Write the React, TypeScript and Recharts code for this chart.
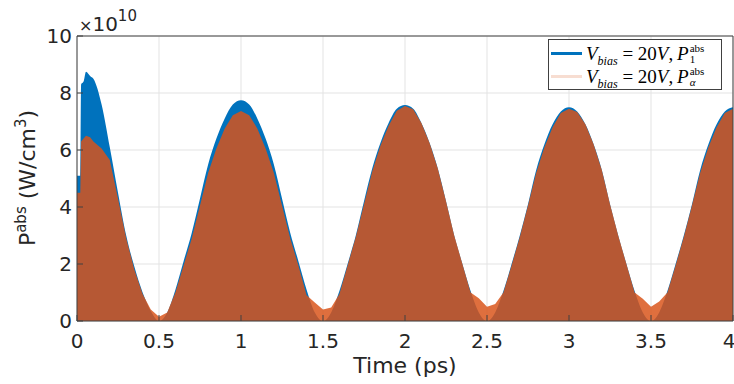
import {
  ComposedChart,
  Area,
  XAxis,
  YAxis,
  CartesianGrid,
  ReferenceLine,
  Label,
} from "recharts";

// time axis (ps)
const times = [
  0, 0.02, 0.025, 0.04, 0.055, 0.08, 0.1,
  0.15, 0.2, 0.25, 0.3, 0.35, 0.4, 0.45, 0.5,
  0.55, 0.6, 0.65, 0.7, 0.75, 0.8, 0.85, 0.9, 0.95, 1.0,
  1.05, 1.1, 1.15, 1.2, 1.25, 1.3, 1.35, 1.4, 1.45, 1.5,
  1.55, 1.6, 1.65, 1.7, 1.75, 1.8, 1.85, 1.9, 1.95, 2.0,
  2.05, 2.1, 2.15, 2.2, 2.25, 2.3, 2.35, 2.4, 2.45, 2.5,
  2.55, 2.6, 2.65, 2.7, 2.75, 2.8, 2.85, 2.9, 2.95, 3.0,
  3.05, 3.1, 3.15, 3.2, 3.25, 3.3, 3.35, 3.4, 3.45, 3.5,
  3.55, 3.6, 3.65, 3.7, 3.75, 3.8, 3.85, 3.9, 3.95, 4.0,
];

// envelope of P1 abs (x1e10 W/cm^3)
const p1Abs = [
  5.1, 5.1, 8.3, 8.4, 8.75, 8.6, 8.5,
  7.6, 6.1, 4.5, 3.0, 1.9, 1.0, 0.35, 0,
  0.3, 1.1, 2.1, 3.1, 4.3, 5.5, 6.4, 7.1, 7.6, 7.75,
  7.6, 7.1, 6.4, 5.5, 4.3, 3.1, 2.1, 1.1, 0.3, 0,
  0.3, 1.05, 2.0, 3.0, 4.2, 5.35, 6.25, 6.95, 7.45, 7.58,
  7.45, 6.95, 6.25, 5.35, 4.2, 3.0, 2.0, 1.05, 0.3, 0,
  0.3, 1.05, 2.0, 3.0, 4.1, 5.3, 6.2, 6.9, 7.35, 7.5,
  7.35, 6.9, 6.2, 5.3, 4.1, 3.0, 2.0, 1.05, 0.3, 0,
  0.3, 1.05, 2.0, 3.0, 4.1, 5.3, 6.2, 6.9, 7.35, 7.5,
];

// envelope of P alpha abs (x1e10 W/cm^3)
const pAlphaAbs = [
  4.5, 4.5, 6.3, 6.4, 6.5, 6.45, 6.3,
  6.05, 5.65, 4.3, 2.9, 1.8, 0.95, 0.4, 0.15,
  0.3, 1.0, 1.95, 2.9, 4.05, 5.2, 6.05, 6.75, 7.22, 7.37,
  7.22, 6.75, 6.05, 5.2, 4.05, 2.9, 1.95, 0.9, 0.65, 0.4,
  0.47, 0.95, 1.95, 2.95, 4.1, 5.25, 6.15, 6.85, 7.38, 7.54,
  7.43, 6.95, 6.25, 5.35, 4.2, 3.0, 2.0, 1.0, 0.8, 0.5,
  0.6, 1.0, 1.95, 2.95, 4.05, 5.2, 6.1, 6.8, 7.3, 7.45,
  7.33, 6.9, 6.2, 5.3, 4.1, 3.0, 2.0, 1.0, 0.78, 0.5,
  0.68, 1.0, 1.95, 2.95, 4.05, 5.2, 6.1, 6.8, 7.3, 7.45,
];

const xTicks = [0, 0.5, 1, 1.5, 2, 2.5, 3, 3.5, 4];
const yTicks = [0, 2, 4, 6, 8, 10];

const data = times.map((t, i) => ({ t, p1: p1Abs[i], pa: pAlphaAbs[i] }));

const sans = "'DejaVu Sans', sans-serif";
const serif = "'Liberation Serif', 'DejaVu Serif', serif";
const axisColor = "#404040";
const textColor = "#262626";

function LegendRow({ color, sub, italicSub }: { color: string; sub: string; italicSub?: boolean }) {
  return (
    <div style={{ display: "flex", alignItems: "center", height: 23 }}>
      <div style={{ width: 31, height: 3, background: color, marginRight: 4, flexShrink: 0 }} />
      <span style={{ fontFamily: serif, fontSize: 19, color: "#000", whiteSpace: "nowrap", lineHeight: "23px" }}>
        <i>V</i>
        <sub style={{ fontSize: 12, lineHeight: 0 }}>
          <i>bias</i>
        </sub>
        {"\u2005=\u200520"}
        <i>V</i>,{"\u2009"}
        <i>P</i>
      </span>
      <span
        style={{
          display: "flex",
          flexDirection: "column",
          fontFamily: serif,
          fontSize: 11,
          lineHeight: "11px",
          marginLeft: 1,
          color: "#000",
        }}
      >
        <span>abs</span>
        <span style={{ fontStyle: italicSub ? "italic" : "normal" }}>{sub}</span>
      </span>
    </div>
  );
}

export default function App() {
  return (
    <div style={{ position: "absolute", left: 0, top: 0, width: 734, height: 384, background: "#fff" }}>
      <ComposedChart
        width={734}
        height={384}
        data={data}
        margin={{ top: 36, right: 1, left: 17, bottom: 33 }}
      >
        <CartesianGrid stroke="#e3e3e3" strokeWidth={1} />
        <XAxis
          type="number"
          dataKey="t"
          domain={[0, 4]}
          ticks={xTicks}
          height={30}
          stroke={axisColor}
          tickSize={-6}
          tickMargin={19}
          tick={{ fill: textColor, fontSize: 20, fontFamily: sans }}
          allowDataOverflow
        >
          <Label
            content={() => (
              <text x={405} y={373} textAnchor="middle" fill={textColor} fontSize={22} fontFamily={sans}>
                Time (ps)
              </text>
            )}
          />
        </XAxis>
        <YAxis
          type="number"
          domain={[0, 10]}
          ticks={yTicks}
          width={60}
          stroke={axisColor}
          tickSize={-6}
          tickMargin={11}
          tick={{ fill: textColor, fontSize: 20, fontFamily: sans }}
          allowDataOverflow
        >
          <Label
            content={() => (
              <text
                x={35}
                y={178}
                transform="rotate(-90, 35, 178)"
                textAnchor="middle"
                fill={textColor}
                fontSize={22}
                fontFamily={sans}
              >
                P
                <tspan fontSize={15} dy={-9}>abs</tspan>
                <tspan dy={9}> (W/cm</tspan>
                <tspan fontSize={15} dy={-9}>3</tspan>
                <tspan dy={9}>)</tspan>
              </text>
            )}
          />
          <Label
            content={() => (
              <text x={79} y={31} fill={textColor} fontSize={20} fontFamily={sans}>
                <tspan fontSize={16}>×</tspan>
                <tspan>10</tspan>
                <tspan fontSize={15} dy={-10}>10</tspan>
              </text>
            )}
          />
        </YAxis>
        <Area
          type="monotone"
          dataKey="p1"
          stroke="none"
          fill="#0072BD"
          fillOpacity={1}
          isAnimationActive={false}
        />
        <Area
          type="linear"
          dataKey="pa"
          stroke="none"
          fill="#D95319"
          fillOpacity={0.84}
          isAnimationActive={false}
        />
        <ReferenceLine x={4} stroke={axisColor} />
        <ReferenceLine y={10} stroke={axisColor} />
      </ComposedChart>
      <div
        style={{
          position: "absolute",
          left: 548,
          top: 39,
          width: 174,
          height: 51,
          border: "1px solid #404040",
          background: "#fff",
          paddingLeft: 2,
          paddingTop: 2,
          boxSizing: "border-box",
        }}
      >
        <LegendRow color="#0072BD" sub="1" />
        <LegendRow color="rgba(217,83,25,0.2)" sub="α" italicSub />
      </div>
    </div>
  );
}
